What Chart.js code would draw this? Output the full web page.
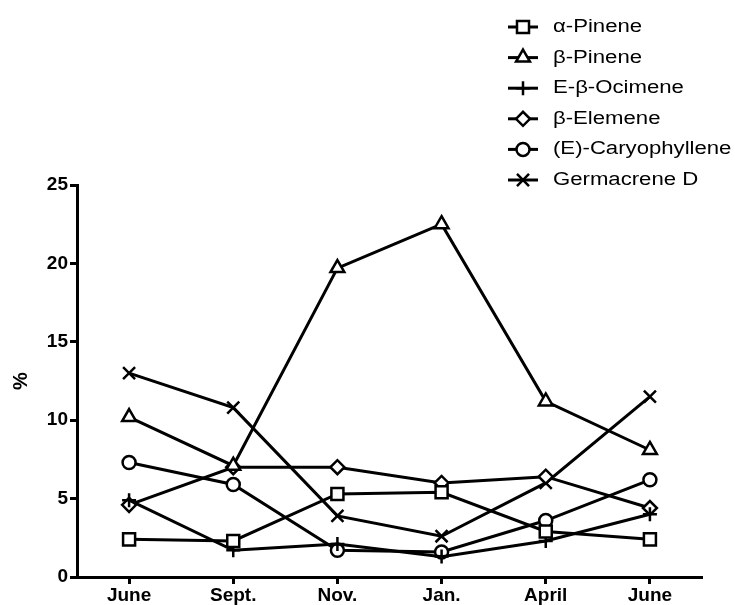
<!DOCTYPE html>
<html>
<head>
<meta charset="utf-8">
<script src="https://cdn.jsdelivr.net/npm/chart.js@4/dist/chart.umd.min.js"></script>
<style>
  html, body { margin: 0; padding: 0; background: #fff; }
  #wrap { width: 735px; height: 605px; }
</style>
</head>
<body>
<div id="wrap"><canvas id="chart" width="735" height="605"></canvas></div>
<script>
// Data
const months = ['June', 'Sept.', 'Nov.', 'Jan.', 'April', 'June'];
const yTicks = [0, 5, 10, 15, 20, 25];

const alphaPinene = [2.4, 2.3, 5.3, 5.4, 2.9, 2.4];
const betaPinene = [10.2, 7.1, 19.7, 22.5, 11.2, 8.1];
const ocimene = [4.9, 1.7, 2.1, 1.3, 2.3, 4.0];
const betaElemene = [4.6, 7.0, 7.0, 6.0, 6.4, 4.4];
const caryophyllene = [7.3, 5.9, 1.7, 1.6, 3.6, 6.2];
const germacreneD = [13.0, 10.8, 3.9, 2.6, 6.0, 11.5];

const FONT = "'Liberation Sans', Arial, sans-serif";

function series(label, data, style, radius) {
    return {
        label: label,
        data: data,
        borderColor: '#000',
        borderWidth: 3,
        pointStyle: style,
        pointRadius: radius,
        pointHoverRadius: radius,
        pointBackgroundColor: '#fff',
        pointBorderColor: '#000',
        pointBorderWidth: 2.5,
        tension: 0,
        fill: false,
        clip: false
    };
}

// Vertical legend at the top right, drawn by hand
const sideLegend = {
    id: 'sideLegend',
    afterDraw(chart) {
        const ctx = chart.ctx;
        ctx.save();
        chart.data.datasets.forEach(function (ds, i) {
            const y = 27 + i * 30.6;
            ctx.strokeStyle = '#000';
            ctx.lineWidth = 3;
            ctx.beginPath();
            ctx.moveTo(508, y);
            ctx.lineTo(538, y);
            ctx.stroke();
            ctx.fillStyle = '#fff';
            ctx.lineWidth = 2.5;
            Chart.helpers.drawPoint(ctx, {
                pointStyle: ds.pointStyle,
                radius: ds.pointRadius,
                rotation: 0,
                borderWidth: 2.5
            }, 523, y);
            // the reference text is a little wider than the font
            ctx.save();
            ctx.translate(553, y);
            ctx.scale(1.23, 1);
            ctx.fillStyle = '#000';
            ctx.font = '18px ' + FONT;
            ctx.textBaseline = 'middle';
            ctx.textAlign = 'left';
            ctx.fillText(ds.label, 0, 0);
            ctx.restore();
        });
        ctx.restore();
    }
};

const ctx = document.getElementById('chart').getContext('2d');
const chart = new Chart(ctx, {
    type: 'line',
    data: {
        labels: months,
        datasets: [
            series('α-Pinene', alphaPinene, 'rect', 8.5),
            series('β-Pinene', betaPinene, 'triangle', 8),
            series('E-β-Ocimene', ocimene, 'cross', 7),
            series('β-Elemene', betaElemene, 'rectRot', 7),
            series('(E)-Caryophyllene', caryophyllene, 'circle', 6.5),
            series('Germacrene D', germacreneD, 'crossRot', 8.5)
        ]
    },
    options: {
        responsive: false,
        animation: false,
        layout: { padding: { top: 185, right: 33, left: 0, bottom: 0 } },
        plugins: {
            legend: { display: false },
            tooltip: { enabled: false }
        },
        scales: {
            x: {
                type: 'category',
                offset: true,
                grid: {
                    display: true,
                    drawOnChartArea: false,
                    drawTicks: true,
                    tickLength: 7,
                    tickWidth: 3,
                    tickColor: '#000',
                    offset: false
                },
                border: { display: true, width: 3, color: '#000' },
                ticks: {
                    color: '#000',
                    font: { family: FONT, size: 19, weight: 'bold' },
                    padding: 0,
                    maxRotation: 0
                },
                afterFit(scale) { scale.height = 28; }
            },
            y: {
                min: 0,
                max: 25,
                afterBuildTicks(scale) {
                    scale.ticks = yTicks.map(v => ({ value: v }));
                },
                grid: {
                    display: true,
                    drawOnChartArea: false,
                    drawTicks: true,
                    tickLength: 7,
                    tickWidth: 3,
                    tickColor: '#000'
                },
                border: { display: true, width: 3, color: '#000' },
                ticks: {
                    color: '#000',
                    font: { family: FONT, size: 19, weight: 'bold' },
                    padding: 2
                },
                title: {
                    display: true,
                    text: '%',
                    color: '#000',
                    font: { family: FONT, size: 20, weight: 'bold' },
                    padding: { top: 9, bottom: 0 }
                },
                afterFit(scale) { scale.width = 77; }
            }
        }
    },
    plugins: [sideLegend]
});
</script>
</body>
</html>
